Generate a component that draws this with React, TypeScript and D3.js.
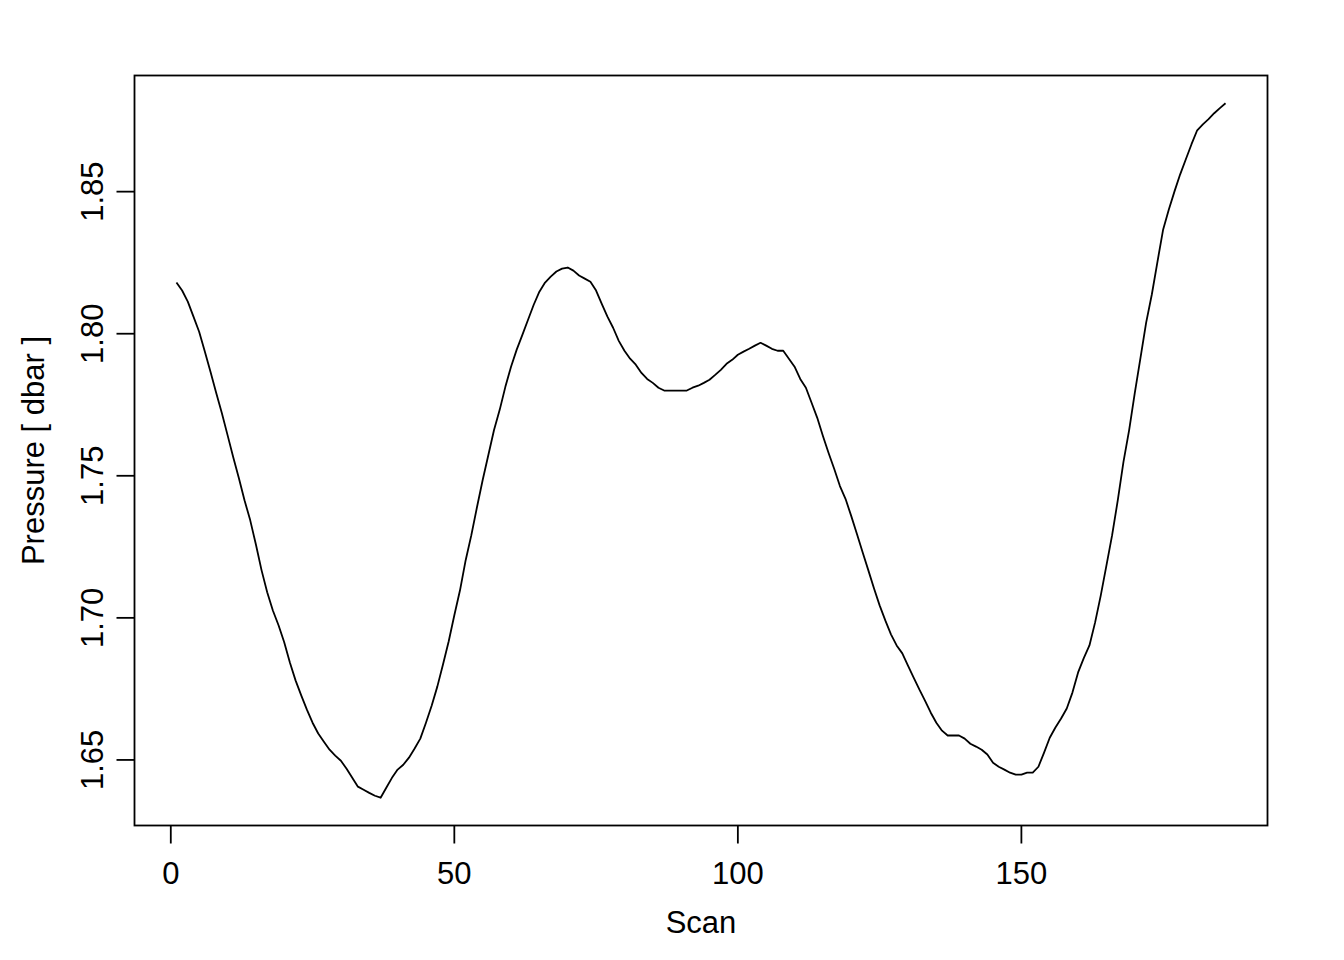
import React, { useEffect, useRef } from 'react';
import * as d3 from 'd3';

// pressure by scan number (scan 1..186)
const pressure: number[] = [
  1.8180, 1.8152, 1.8113, 1.8060, 1.8007, 1.7937, 1.7866, 1.7792, 1.7721, 1.7644,
  1.7566, 1.7492, 1.7414, 1.7344, 1.7259, 1.7168, 1.7090, 1.7026, 1.6974, 1.6914,
  1.6843, 1.6780, 1.6727, 1.6677, 1.6631, 1.6593, 1.6564, 1.6536, 1.6515, 1.6497,
  1.6469, 1.6437, 1.6406, 1.6395, 1.6384, 1.6374, 1.6367, 1.6402, 1.6437, 1.6466,
  1.6483, 1.6508, 1.6540, 1.6575, 1.6631, 1.6691, 1.6758, 1.6836, 1.6917, 1.7009,
  1.7097, 1.7203, 1.7291, 1.7390, 1.7485, 1.7573, 1.7661, 1.7732, 1.7813, 1.7884,
  1.7944, 1.7996, 1.8049, 1.8102, 1.8148, 1.8180, 1.8201, 1.8219, 1.8229, 1.8233,
  1.8222, 1.8205, 1.8194, 1.8183, 1.8152, 1.8105, 1.8060, 1.8021, 1.7975, 1.7940,
  1.7912, 1.7891, 1.7862, 1.7841, 1.7827, 1.7810, 1.7800, 1.7800, 1.7800, 1.7800,
  1.7800, 1.7810, 1.7817, 1.7827, 1.7838, 1.7855, 1.7873, 1.7894, 1.7908, 1.7926,
  1.7937, 1.7947, 1.7958, 1.7968, 1.7958, 1.7947, 1.7940, 1.7940, 1.7912, 1.7884,
  1.7841, 1.7810, 1.7757, 1.7704, 1.7640, 1.7580, 1.7524, 1.7464, 1.7418, 1.7358,
  1.7295, 1.7231, 1.7168, 1.7104, 1.7044, 1.6991, 1.6942, 1.6903, 1.6875, 1.6832,
  1.6790, 1.6748, 1.6709, 1.6667, 1.6631, 1.6603, 1.6586, 1.6586, 1.6586, 1.6575,
  1.6557, 1.6547, 1.6536, 1.6519, 1.6490, 1.6476, 1.6466, 1.6455, 1.6448, 1.6448,
  1.6455, 1.6455, 1.6476, 1.6526, 1.6578, 1.6614, 1.6646, 1.6681, 1.6737, 1.6808,
  1.6858, 1.6903, 1.6984, 1.7079, 1.7185, 1.7291, 1.7414, 1.7549, 1.7661, 1.7792,
  1.7915, 1.8039, 1.8138, 1.8254, 1.8367, 1.8437, 1.8501, 1.8561, 1.8614, 1.8667,
  1.8716, 1.8737, 1.8755, 1.8776, 1.8794, 1.8811,
];
const scans: number[] = pressure.map((_p, i) => i + 1);

const xTicks = [0, 50, 100, 150];
const yTicks = [1.65, 1.7, 1.75, 1.8, 1.85];

const W = 1344;
const H = 960;
const box = { left: 134.5, right: 1267.5, top: 75.5, bottom: 825.5 };
const FONT = '"Liberation Sans", Arial, Helvetica, sans-serif';
const FS = 31;

// R style 4% axis extension
const padRange = (lo: number, hi: number): [number, number] => {
  const d = (hi - lo) * 0.04;
  return [lo - d, hi + d];
};

export default function App() {
  const svgRef = useRef<SVGSVGElement>(null);

  useEffect(() => {
    if (!svgRef.current) return;
    const svg = d3.select(svgRef.current);
    svg.selectAll('*').remove();

    const x = d3
      .scaleLinear()
      .domain(padRange(d3.min(scans) as number, d3.max(scans) as number))
      .range([box.left, box.right]);
    const y = d3
      .scaleLinear()
      .domain(padRange(d3.min(pressure) as number, d3.max(pressure) as number))
      .range([box.bottom, box.top]);

    svg.append('rect').attr('width', W).attr('height', H).attr('fill', 'white');

    // data line
    const line = d3
      .line<number>()
      .x((_d, i) => x(scans[i]))
      .y(d => y(d));
    svg
      .append('path')
      .datum(pressure)
      .attr('fill', 'none')
      .attr('stroke', 'black')
      .attr('stroke-width', 1.8)
      .attr('stroke-linejoin', 'round')
      .attr('d', line);

    // frame
    svg
      .append('rect')
      .attr('x', box.left)
      .attr('y', box.top)
      .attr('width', box.right - box.left)
      .attr('height', box.bottom - box.top)
      .attr('fill', 'none')
      .attr('stroke', 'black')
      .attr('stroke-width', 1.8);

    const tickLen = 18;

    // x axis
    const gx = svg.append('g');
    gx.selectAll('line')
      .data(xTicks)
      .enter()
      .append('line')
      .attr('x1', d => x(d))
      .attr('x2', d => x(d))
      .attr('y1', box.bottom)
      .attr('y2', box.bottom + tickLen)
      .attr('stroke', 'black')
      .attr('stroke-width', 1.8);
    gx.selectAll('text')
      .data(xTicks)
      .enter()
      .append('text')
      .attr('x', d => x(d))
      .attr('y', 884)
      .attr('text-anchor', 'middle')
      .attr('font-family', FONT)
      .attr('font-size', FS)
      .text(d => String(d));

    // y axis
    const gy = svg.append('g');
    gy.selectAll('line')
      .data(yTicks)
      .enter()
      .append('line')
      .attr('x1', box.left)
      .attr('x2', box.left - tickLen)
      .attr('y1', d => y(d))
      .attr('y2', d => y(d))
      .attr('stroke', 'black')
      .attr('stroke-width', 1.8);
    gy.selectAll('text')
      .data(yTicks)
      .enter()
      .append('text')
      .attr('transform', d => `translate(103,${y(d)}) rotate(-90)`)
      .attr('text-anchor', 'middle')
      .attr('font-family', FONT)
      .attr('font-size', FS)
      .text(d => d.toFixed(2));

    // axis titles
    svg
      .append('text')
      .attr('x', (box.left + box.right) / 2)
      .attr('y', 933)
      .attr('text-anchor', 'middle')
      .attr('font-family', FONT)
      .attr('font-size', FS)
      .text('Scan');
    svg
      .append('text')
      .attr('transform', `translate(44,${(box.top + box.bottom) / 2}) rotate(-90)`)
      .attr('text-anchor', 'middle')
      .attr('font-family', FONT)
      .attr('font-size', FS)
      .text('Pressure [ dbar ]');
  }, []);

  return (
    <svg
      ref={svgRef}
      width={W}
      height={H}
      style={{ position: 'absolute', left: 0, top: 0, display: 'block' }}
    />
  );
}
